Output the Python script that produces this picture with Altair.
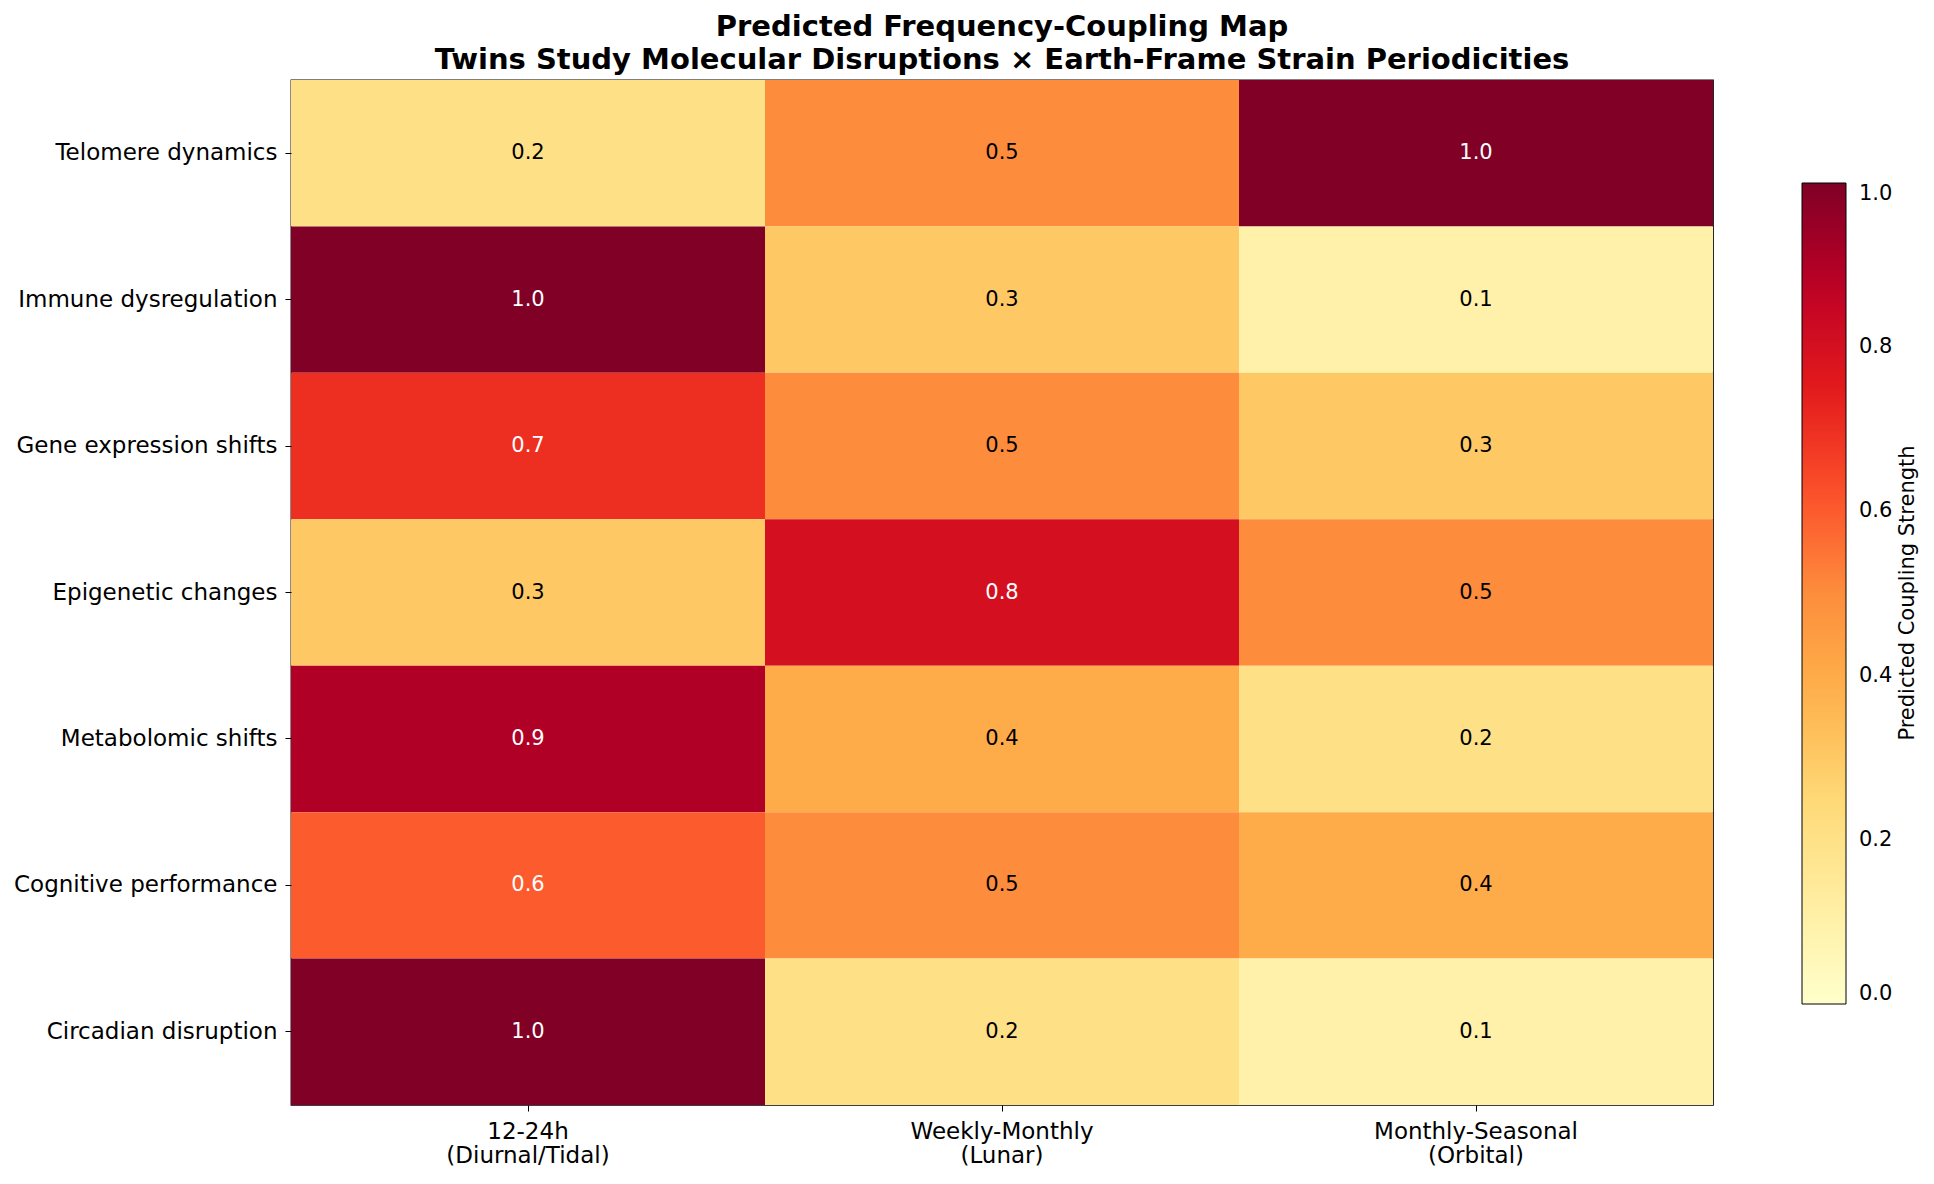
import altair as alt
import pandas as pd

processes = [
    "Telomere dynamics",
    "Immune dysregulation",
    "Gene expression shifts",
    "Epigenetic changes",
    "Metabolomic shifts",
    "Cognitive performance",
    "Circadian disruption",
]
periods = [
    "12-24h\n(Diurnal/Tidal)",
    "Weekly-Monthly\n(Lunar)",
    "Monthly-Seasonal\n(Orbital)",
]
vals_diurnal = [0.2, 1.0, 0.7, 0.3, 0.9, 0.6, 1.0]
vals_lunar = [0.5, 0.3, 0.5, 0.8, 0.4, 0.5, 0.2]
vals_orbital = [1.0, 0.1, 0.3, 0.5, 0.2, 0.4, 0.1]
colorbar_title = "Predicted Coupling Strength"

ylorrd = ["#ffffcc", "#ffeda0", "#fed976", "#feb24c", "#fd8d3c",
          "#fc4e2a", "#e31a1c", "#bd0026", "#800026"]
stops = [i / 8 for i in range(9)]

rows = []
for p, col in zip(periods, [vals_diurnal, vals_lunar, vals_orbital]):
    for proc, v in zip(processes, col):
        rows.append({"period": p, "process": proc, "value": v})
df = pd.DataFrame(rows)

W, H = 1422, 1025

base = alt.Chart(df).encode(
    x=alt.X("period:N", sort=periods, title=None,
            axis=alt.Axis(labelAngle=0, labelExpr="split(datum.label, '\\n')",
                          labelLineHeight=24, labelFontSize=23, tickSize=6,
                          labelPadding=9, domain=False, labelColor="black",
                          tickColor="black", labelFont="DejaVu Sans", labelLimit=0)),
    y=alt.Y("process:N", sort=processes, title=None,
            axis=alt.Axis(labelFontSize=23, tickSize=6, labelPadding=8,
                          domain=False, labelColor="black", tickColor="black",
                          labelFont="DejaVu Sans", labelLimit=0)),
)

heat = base.mark_rect().encode(
    color=alt.Color(
        "value:Q",
        scale=alt.Scale(domain=stops, range=ylorrd, interpolate="rgb"),
        legend=alt.Legend(
            orient="none", legendX=1511, legendY=103, direction="vertical",
            gradientLength=821, gradientThickness=44,
            gradientStrokeColor="black", gradientStrokeWidth=1,
            values=[0, 0.2, 0.4, 0.6, 0.8, 1.0], format=".1f",
            labelFontSize=21, labelFont="DejaVu Sans", labelColor="black",
            labelOffset=13, title=None,
        ),
    )
)

text = base.mark_text(fontSize=21, font="DejaVu Sans").encode(
    text=alt.Text("value:Q", format=".1f"),
    color=alt.condition(alt.datum.value > 0.55, alt.value("white"), alt.value("black")),
)

cb_title = alt.Chart(pd.DataFrame({"t": [colorbar_title]})).mark_text(
    angle=270, fontSize=21, font="DejaVu Sans", color="black",
    align="center", baseline="middle",
).encode(text="t:N", x=alt.value(1617), y=alt.value(513))

chart = (
    alt.layer(heat, text, cb_title)
    .properties(
        width=W, height=H,
        autosize=alt.AutoSizeParams(type="none"),
        padding={"left": 291, "top": 80, "right": 221, "bottom": 79},
        title=alt.TitleParams(
            text=["Predicted Frequency-Coupling Map",
                  "Twins Study Molecular Disruptions × Earth-Frame Strain Periodicities"],
            fontSize=29, fontWeight="bold", font="DejaVu Sans", color="black",
            anchor="middle", frame="group", lineHeight=33, offset=5,
        ),
        background="white",
    )
    .configure_view(stroke="black", strokeWidth=1.3)
    .configure_scale(bandPaddingInner=0, bandPaddingOuter=0)
)

chart.save("out.html", embed_options={"renderer": "svg", "actions": False})
